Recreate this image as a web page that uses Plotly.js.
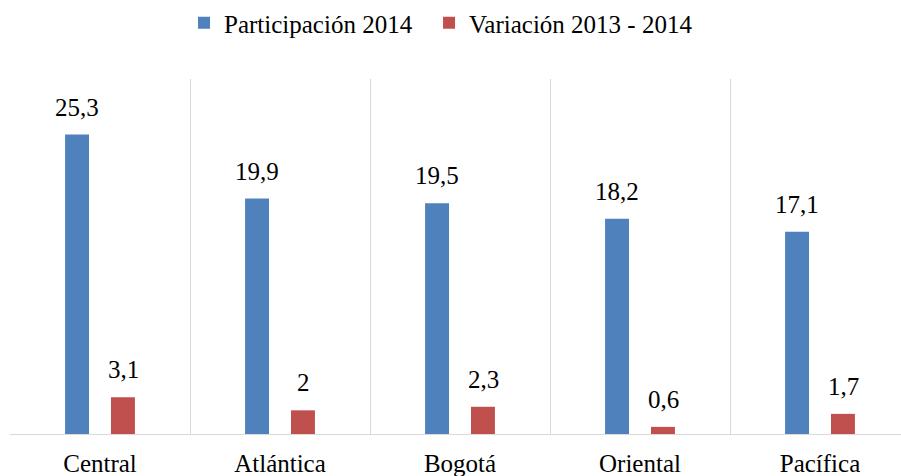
<!DOCTYPE html>
<html>
<head>
<meta charset="utf-8">
<script src="https://cdn.plot.ly/plotly-3.0.1.min.js"></script>
<style>html,body{margin:0;padding:0;background:#fff;overflow:hidden}</style>
</head>
<body>
<div id="chart" style="width:901px;height:476px"></div>
<script>
const categories = ["Central", "Atlántica", "Bogotá", "Oriental", "Pacífica"];
const participacion2014 = [25.3, 19.9, 19.5, 18.2, 17.1];
const variacion2013_2014 = [3.1, 2, 2.3, 0.6, 1.7];
const seriesNames = ["Participación 2014", "Variación 2013 - 2014"];

const fmt = v => String(v).replace('.', ',');
const font = {family: "Liberation Serif", size: 25, color: "#000"};

const traces = [
  {type: "bar", name: seriesNames[0], x: categories, y: participacion2014,
   marker: {color: "#4F81BD"}, hoverinfo: "none", legend: "legend"},
  {type: "bar", name: seriesNames[1], x: categories, y: variacion2013_2014,
   marker: {color: "#C0504D"}, hoverinfo: "none", legend: "legend2"}
];

// data labels, placed above each bar (offset matches grouped bar position)
const annotations = [];
[participacion2014, variacion2013_2014].forEach((vals, si) => {
  vals.forEach((v, i) => {
    annotations.push({
      x: categories[i], y: v, xref: "x", yref: "y",
      text: fmt(v), showarrow: false, font: font,
      xanchor: "center", yanchor: "bottom",
      xshift: si === 0 ? -23 : 23, yshift: 12
    });
  });
});

const legendBase = {orientation: "h", y: 1.157, yanchor: "middle", xanchor: "left",
                    bgcolor: "rgba(0,0,0,0)", font: font, itemwidth: 30};

const layout = {
  width: 901, height: 476,
  margin: {l: 10, r: 0, t: 78, b: 42},
  paper_bgcolor: "#fff", plot_bgcolor: "#fff",
  font: font,
  separators: ",.",
  barmode: "group",
  bargap: 0.49,
  bargroupgap: 0.478,
  showlegend: true,
  legend: Object.assign({}, legendBase, {x: 0.1953}),
  legend2: Object.assign({}, legendBase, {x: 0.4703}),
  annotations: annotations,
  xaxis: {type: "category", range: [-0.5, 4.45], tickson: "boundaries",
          showgrid: true, gridcolor: "#D9D9D9", gridwidth: 1,
          showline: true, linecolor: "#D9D9D9", linewidth: 1,
          ticks: "", ticklabelstandoff: 7, tickfont: font, fixedrange: true, zeroline: false},
  yaxis: {range: [0, 30], visible: false, showgrid: false, zeroline: false, fixedrange: true}
};

Plotly.newPlot("chart", traces, layout, {displayModeBar: false, staticPlot: true});
</script>
</body>
</html>
